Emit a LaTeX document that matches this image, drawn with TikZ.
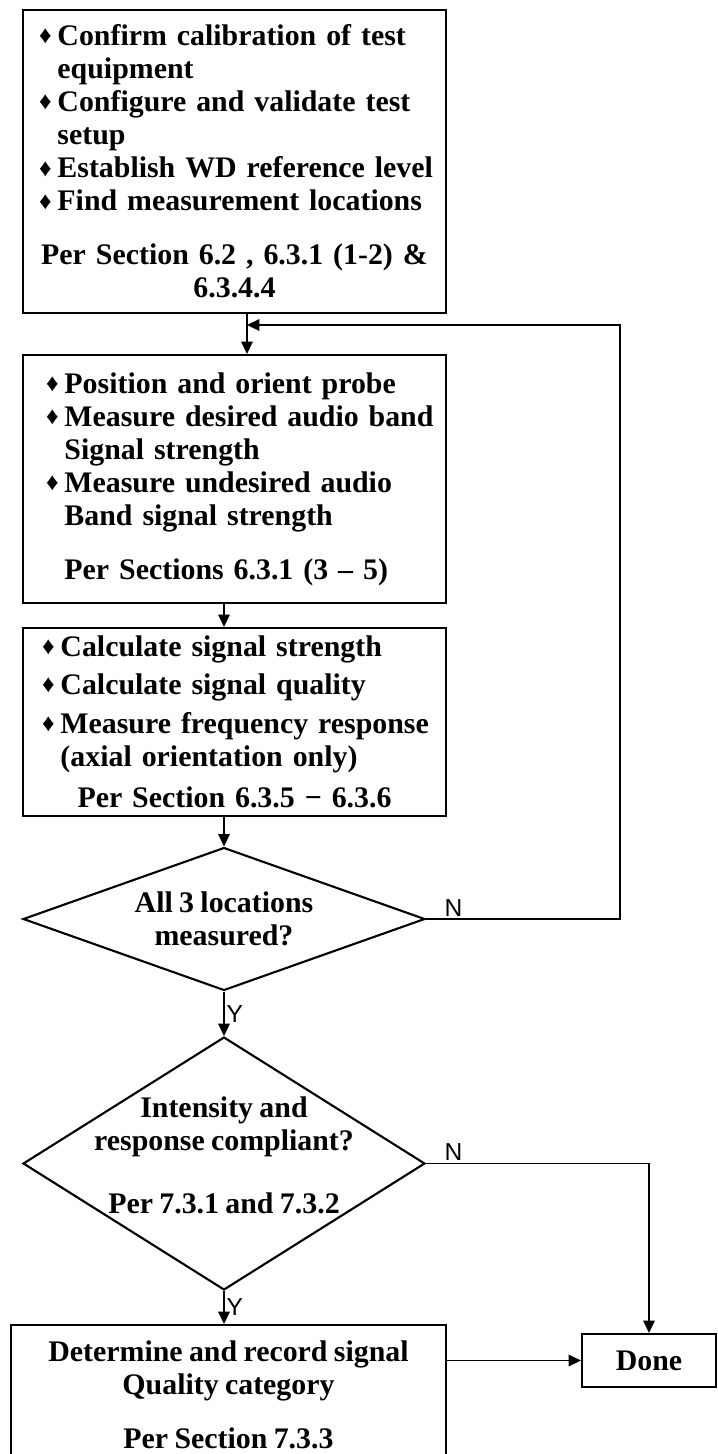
\documentclass[tikz,border=0pt]{standalone}
\usepackage{fontspec}
\setmainfont[WordSpace=0.85]{Liberation Serif}
\newfontfamily\ynfont{Liberation Sans}
\usetikzlibrary{shapes.geometric,arrows.meta,positioning}
\newcommand{\dmd}{\makebox[10.5pt][l]{\raisebox{1pt}{\fontsize{14}{14}\selectfont ♦}}}
\newcommand{\itm}[1]{\dmd\mbox{#1}}
\newcommand{\cnt}[1]{\hspace*{10.5pt}\mbox{#1}}
\begin{document}
\begin{tikzpicture}[x=0.02cm,y=-0.02cm,
  box/.style={draw,line width=1.2pt,rectangle,inner sep=0pt,align=left,
    font=\fontsize{17}{18.8}\selectfont\bfseries},
  decision/.style={draw,line width=1.2pt,diamond,inner sep=0pt},
  dtext/.style={align=center,font=\fontsize{17}{18.8}\selectfont\bfseries},
  arr/.style={line width=1pt,-{Triangle[length=7pt,width=6.5pt]}},
  lbl/.style={font=\ynfont\fontsize{14}{14}\selectfont,inner sep=1pt}]
 \clip (0,0) rectangle (717,1454);
 % process boxes
 \node[box,minimum width=8.46cm,minimum height=6.06cm,text width=7.82cm] (prep) at (234.5,161.5) {%
   \itm{Confirm calibration of test}\\
   \cnt{equipment}\\
   \itm{Configure and validate test}\\
   \cnt{setup}\\
   \itm{Establish WD reference level}\\
   \itm{Find measurement locations}\\[12pt]
   \makebox[\hsize]{Per Section 6.2 , 6.3.1 (1-2) \&}\\
   \makebox[\hsize]{6.3.4.4}};
 \node[box,minimum width=8.46cm,minimum height=4.96cm,text width=7.54cm] (probe) at (234.5,479) {%
   \itm{Position and orient probe}\\
   \itm{Measure desired audio band}\\
   \cnt{Signal strength}\\
   \itm{Measure undesired audio}\\
   \cnt{Band signal strength}\\[12pt]
   \cnt{Per Sections 6.3.1 (3 – 5)}};
 \node[box,minimum width=8.46cm,minimum height=3.76cm,text width=7.7cm] (calc) at (234.5,722) {%
   \itm{Calculate signal strength}\\[3pt]
   \itm{Calculate signal quality}\\[3pt]
   \itm{Measure frequency response}\\
   \cnt{(axial orientation only)}\\[5pt]
   \makebox[\hsize]{Per Section 6.3.5 − 6.3.6}};
 % decisions
 \node[decision,minimum width=8.04cm,minimum height=2.86cm,
   label={[dtext]center:{All 3 locations\\measured?}}] (q1) at (224,919) {};
 \node[decision,minimum width=8.04cm,minimum height=5.06cm,
   label={[dtext,yshift=0.16cm]center:{Intensity and\\response compliant?\\[17pt]Per 7.3.1 and 7.3.2}}] (q2) at (224,1163.5) {};
 \node[box,align=center,minimum width=8.7cm,minimum height=2.8cm] (rec) at (228.5,1395) {%
   Determine and record signal\\
   Quality category\\[12pt]
   Per Section 7.3.3};
 \node[box,align=center,minimum width=2.68cm,minimum height=1.06cm] (done) at (649,1360.5) {Done};
 \coordinate (j) at (247,325);
 \coordinate (back) at (620,325);
 % connectors
 \draw[arr] (prep.south -| j) -- (probe.north -| j);
 \draw[arr] (probe.south -| q1) -- (calc.north -| q1);
 \draw[arr] (calc.south -| q1) -- (q1.north);
 \draw[arr] (q1.south) -- (q2.north) node[lbl,midway,right] {Y};
 \draw[arr] (q2.south) -- (rec.north -| q2) node[lbl,midway,right] {Y};
 \draw[arr] (q1.east) node[lbl,anchor=south west,xshift=0.32cm] {N} -| (back) -- (j);
 \draw[arr] (q2.east) node[lbl,anchor=south west,xshift=0.32cm] {N} -| (done.north);
 \draw[arr] (rec.east |- done) -- (done.west);
\end{tikzpicture}
\end{document}
